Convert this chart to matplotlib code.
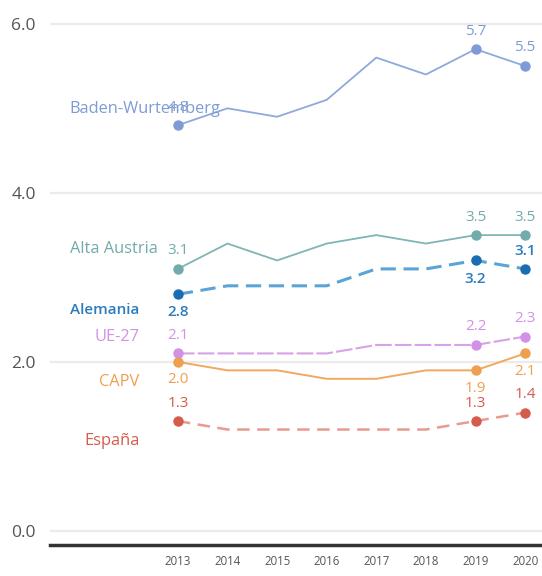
import matplotlib.pyplot as plt

plt.rcParams['font.family'] = ['Open Sans', 'DejaVu Sans']

# Datos
years = [2013, 2014, 2015, 2016, 2017, 2018, 2019, 2020]
baden = [4.8, 5.0, 4.9, 5.1, 5.6, 5.4, 5.7, 5.5]
alta_austria = [3.1, 3.4, 3.2, 3.4, 3.5, 3.4, 3.5, 3.5]
alemania = [2.8, 2.9, 2.9, 2.9, 3.1, 3.1, 3.2, 3.1]
ue27 = [2.1, 2.1, 2.1, 2.1, 2.2, 2.2, 2.2, 2.3]
capv = [2.0, 1.9, 1.9, 1.8, 1.8, 1.9, 1.9, 2.1]
espana = [1.3, 1.2, 1.2, 1.2, 1.2, 1.2, 1.3, 1.4]

names = ["Baden-Wurtemberg", "Alta Austria", "Alemania", "UE-27", "CAPV", "España"]
series = [baden, alta_austria, alemania, ue27, capv, espana]
yticks = [0.0, 2.0, 4.0, 6.0]
marked = [2013, 2019, 2020]

# estilo: color línea, color marcador/texto, estilo, grosor
styles = [
    ("#8fa9dc", "#7f9bd6", "-", 1.3),
    ("#7fb5b5", "#72abab", "-", 1.3),
    ("#5ba4d8", "#1a6db3", (0, (5, 2.5)), 2.2),
    ("#d6a2e8", "#d191e6", (0, (8, 1.5)), 1.5),
    ("#f0a95e", "#eea050", "-", 1.4),
    ("#e89a90", "#d55b4c", (0, (5, 3)), 1.8),
]
# posiciones de las etiquetas de valor: +1 arriba, -1 abajo (2013, 2019, 2020)
label_side = [
    [1, 1, 1],
    [1, 1, 1],
    [-1, -1, 1],
    [1, 1, 1],
    [-1, -1, -1],
    [1, 1, 1],
]
# nombres de serie: posición vertical y alineación
name_y = [4.99, 3.34, 2.61, 2.30, 1.76, 1.06]
name_ha = ['left', 'left', 'right', 'right', 'right', 'right']

fig = plt.figure(figsize=(5.42, 5.76), dpi=100)
ax = fig.add_axes([0.092, 0.054, 0.908, 0.937])

for vals, name, (lc, mc, ls, lw), sides, ny, ha in zip(series, names, styles, label_side, name_y, name_ha):
    ax.plot(years, vals, color=lc, linestyle=ls, linewidth=lw, zorder=3)
    mx = [y for y in years if y in marked]
    my = [v for y, v in zip(years, vals) if y in marked]
    ax.plot(mx, my, 'o', color=mc, markersize=6.5, zorder=4)
    is_de = name == "Alemania"
    bold = 'semibold' if is_de else 'normal'
    tc = "#2b7bbd" if is_de else mc
    for x, v, s in zip(mx, my, sides):
        ax.annotate(f"{v:.1f}", (x, v), xytext=(0, 13 * s), textcoords='offset points',
                    ha='center', va='center', fontsize=11, color=tc, fontweight=bold)
    nx = 2010.82 if ha == 'left' else 2012.23
    ax.text(nx, ny, name, ha=ha, va='center', fontsize=11 if is_de else 11.8,
            color=tc, fontweight=bold)

ax.set_xlim(2010.42, 2020.34)
ax.set_ylim(-0.165, 6.22)
ax.set_yticks(yticks)
ax.set_yticklabels([f"{t:.1f}" for t in yticks], fontsize=12.5, color="#555555")
ax.set_xticks(years)
ax.set_xticklabels([str(y) for y in years], fontsize=8.3, color="#555555")
ax.tick_params(axis='both', length=0)
ax.tick_params(axis='y', pad=10)
ax.tick_params(axis='x', pad=7)
ax.grid(axis='y', color="#ebebeb", linewidth=1.6)
ax.set_axisbelow(True)
for side in ['top', 'right', 'left']:
    ax.spines[side].set_visible(False)
ax.spines['bottom'].set_color("#333333")
ax.spines['bottom'].set_linewidth(2.5)

plt.savefig("out.png", dpi=100)
